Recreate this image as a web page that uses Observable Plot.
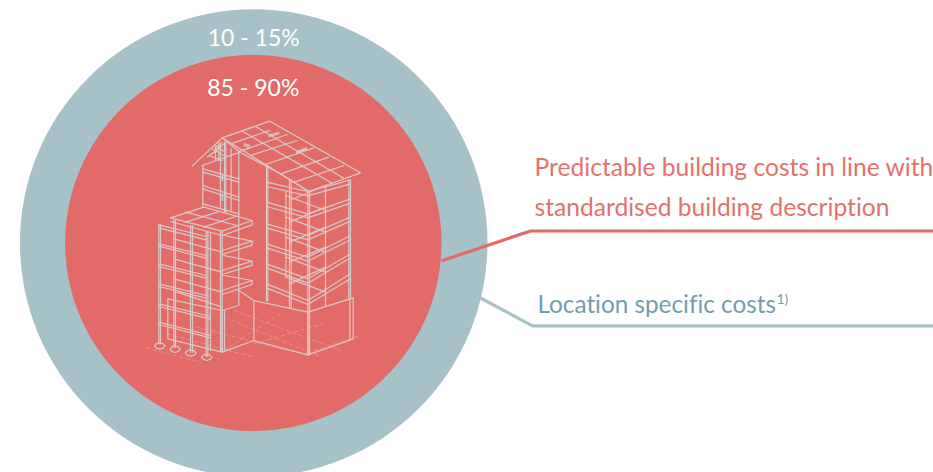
<!DOCTYPE html>
<html><head><meta charset="utf-8">
<script src="https://cdn.jsdelivr.net/npm/d3@7"></script>
<script src="https://cdn.jsdelivr.net/npm/@observablehq/plot@0.6"></script>
<style>html,body{margin:0;padding:0;background:#fff}svg text{font-variant-ligatures:none}</style>
</head><body><div id="chart"></div>
<script>
const ringLabels = ["10 - 15%", "85 - 90%"];
const ringX = [253.2, 252.8];
const ringY = [242.5, 242.5];
const ringR = [233.8, 188.2];
const ringColors = ["#a7c1c8", "#e26b69"];
const labelY = [45.5, 95];

const redText = ["Predictable building costs in line with", "standardised building description"];
const redTextY = [175, 215];
const blueText = "Location specific costs";
const redLeaderX = [442, 530, 933];
const redLeaderY = [260, 230.5, 230.5];
const blueLeaderX = [480, 532, 933];
const blueLeaderY = [297.5, 325.3, 325.3];

// building outline, as polylines (3x crop units, origin 140,110)
const buildingSolid = [
 // main roof
 "155,167 245,82 388,32 660,187 505,243 420,190 298,125 245,82",
 "305,62 575,218","345,48 610,203","245,82 505,243","270,100 388,60","300,122 440,72 ","330,135 470,90","375,162 520,112","420,190 565,140","462,215 610,165",
 "385,78 415,70","385,74 415,66","468,128 498,116","468,124 498,112","310,105 328,112","312,100 328,106",
 "185,165 298,125","200,140 240,110","215,130 250,100","225,120 245,95","215,115 250,135","225,105 250,122","205,135 245,150","235,95 235,150","225,108 225,148",
 // tall central wing
 "187,165 187,290","240,100 240,290","252,95 252,305","256,95 256,305","272,115 272,300","295,120 295,540",
 "187,175 295,205","187,185 295,215","187,225 295,260","187,235 295,270","187,280 295,310","240,190 240,210","246,190 246,210","240,250 240,270","246,250 246,270",
 // right tower columns
 "378,165 378,570","382,168 382,572","447,205 447,590","452,208 452,592","502,243 502,733","507,243 507,733","555,225 555,585","630,208 630,560","625,210 625,562","436,240 436,500",
 // right tower floors
 "378,215 502,243 630,208","378,275 502,310 630,265","378,340 502,375 630,320","378,400 502,440 630,375","378,460 502,505 630,430","378,520 502,570 630,490",
 "378,228 502,256 630,220","378,288 502,322 630,278","378,352 502,388 630,332","378,412 502,452 630,388","378,472 502,518 630,442","378,532 502,582 630,505",
 "447,270 555,225","447,335 555,290","447,395 555,350","447,455 555,410","447,520 555,470",
 "436,255 555,300","436,320 555,365","436,380 555,425","436,440 555,485","436,500 555,545",
 // base box
 "295,540 340,570 502,605 638,562 638,685 502,733 340,690 340,570","502,605 502,733","628,565 628,688",
 // lower wing slabs
 "90,322 190,290 335,330 245,362 90,322","90,333 245,375 335,343 335,330","135,305 290,345","135,335 230,305","190,350 285,318",
 "245,420 335,392 250,375","245,432 335,404 335,392","245,480 335,452 250,435","245,492 335,464 335,452","245,540 335,510 250,495","245,552 335,522 335,510",
 // lower wing columns
 "55,343 55,700","60,343 60,700","100,330 100,710","105,330 105,710","150,345 150,725","156,345 156,725","197,365 197,738","202,365 202,738","245,362 245,722","240,362 240,722","210,370 210,720",
 // lower wing frames
 "55,343 197,378","55,400 197,435","55,460 197,495","55,520 197,555","55,580 210,618","55,635 210,675",
 "55,352 197,388","55,407 197,443","55,468 197,503","55,528 197,563","55,588 210,626","55,642 210,682",
 "100,385 245,425","100,445 245,485","100,505 245,545",
 "82,565 82,685 245,725 340,690","82,565 245,600 295,585 295,540","245,600 245,725","252,600 252,722","110,545 245,590",
 // footings
 "42,706 48,699 57,697 67,699 74,706 67,713 57,716 48,713 42,706","88,716 94,709 103,707 113,709 120,716 113,723 103,726 94,723 88,716","134,727 140,720 150,718 160,720 167,727 160,734 150,737 140,734 134,727","183,740 189,733 198,731 208,733 215,740 208,747 198,750 189,747 183,740"
];
const buildingDashed = [
 "15,712 180,755","80,670 340,740","170,650 440,720","250,620 545,740","280,600 600,720","250,720 420,610","340,700 550,640","520,720 660,675"
];

const parse = (list) => list.flatMap((s, i) => s.trim().split(" ").map(p => {
  const [a, b] = p.split(",").map(Number);
  return {px: 140 + a / 3, py: 110 + b / 3, id: i};
}));
const rings = ringLabels.map((label, i) => ({label, x: ringX[i], y: ringY[i], r: ringR[i], fill: ringColors[i], ly: labelY[i]}));
const leader = (xs, ys) => xs.map((x, i) => ({x, y: ys[i]}));
const FONT = "Lato, 'Noto Sans', sans-serif";

const chart = Plot.plot({
  width: 933, height: 472, margin: 0,
  x: {domain: [0, 933], range: [0, 933], axis: null},
  y: {domain: [0, 472], range: [0, 472], axis: null},
  r: {type: "identity"},
  style: {fontFamily: FONT, background: "#fff"},
  marks: [
    Plot.dot(rings, {x: "x", y: "y", r: "r", fill: "fill", stroke: null}),
    Plot.line(parse(buildingDashed), {x: "px", y: "py", z: "id", stroke: "#e99a97", strokeWidth: 0.7, strokeDasharray: "4,3", curve: "linear"}),
    Plot.line(parse(buildingSolid), {x: "px", y: "py", z: "id", stroke: "#d9c9c8", strokeWidth: 1.2, strokeLinejoin: "miter", curve: "linear"}),
    Plot.line(leader(redLeaderX, redLeaderY), {x: "x", y: "y", stroke: ringColors[1], strokeWidth: 3.2, strokeLinejoin: "miter", curve: "linear"}),
    Plot.line(leader(blueLeaderX, blueLeaderY), {x: "x", y: "y", stroke: ringColors[0], strokeWidth: 3.2, strokeLinejoin: "miter", curve: "linear"}),
    Plot.text(rings, {x: "x", y: "ly", text: "label", fill: "#fff", fontSize: 23, textAnchor: "middle", lineAnchor: "bottom"}),
    Plot.text(redText, {x: 534, y: (d, i) => redTextY[i], text: d => d, fill: "#e4716e", fontSize: 24.6, textAnchor: "start", lineAnchor: "bottom"}),
    Plot.text([blueText], {x: 537, y: 312, text: d => d, fill: "#739eab", fontSize: 24.3, textAnchor: "start", lineAnchor: "bottom"}),
    Plot.text(["1)"], {x: 776, y: 303.5, text: d => d, fill: "#739eab", fontSize: 14, textAnchor: "start", lineAnchor: "bottom"})
  ]
});
document.getElementById("chart").append(chart);
</script>
</body></html>
